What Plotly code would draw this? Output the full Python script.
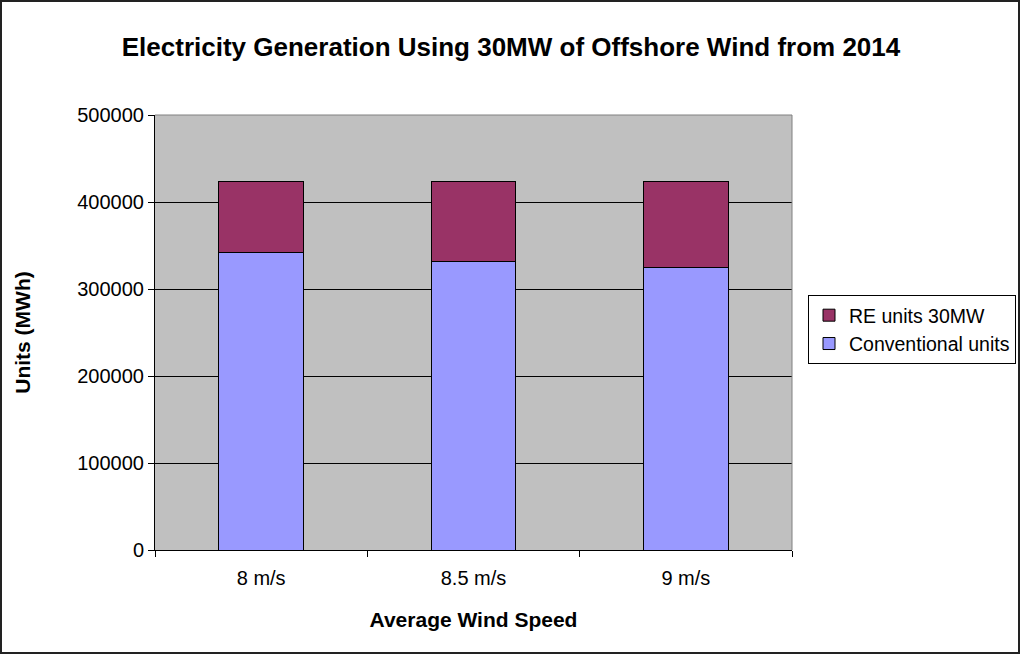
import plotly.graph_objects as go

categories = ["8 m/s", "8.5 m/s", "9 m/s"]
conventional = [342000, 332000, 324500]
re_units = [82000, 92000, 99500]

W, H = 1020, 654
L, R, T, B = 155, 228, 115, 104
pw, ph = W - L - R, H - T - B

fig = go.Figure()
fig.add_trace(go.Bar(x=categories, y=conventional, name="Conventional units",
                     marker=dict(color="#9999FF", line=dict(color="black", width=1)), width=0.4))
fig.add_trace(go.Bar(x=categories, y=re_units, name="RE units 30MW",
                     marker=dict(color="#993366", line=dict(color="black", width=1)), width=0.4))

font = "Liberation Sans, Arial, sans-serif"
fig.update_layout(
    width=W, height=H, barmode="stack",
    margin=dict(l=L, r=R, t=T, b=B, autoexpand=False),
    paper_bgcolor="white", plot_bgcolor="#C0C0C0",
    font=dict(family=font, size=20, color="black"),
    title=dict(text="<b>Electricity Generation Using 30MW of Offshore Wind from 2014</b>",
               x=(511 - L) / pw, xanchor="center", xref="paper", y=1 - 47 / H, yanchor="middle",
               font=dict(size=26, family=font)),
    legend=dict(x=(808 - L) / pw, y=(550 - 295) / ph, xanchor="left", yanchor="top",
                bordercolor="black", borderwidth=1, bgcolor="white",
                traceorder="reversed", font=dict(size=19.5, family=font),
                itemwidth=30, tracegroupgap=0),
    bargap=0.6,
)
fig.update_xaxes(type="category", tickson="boundaries", ticks="outside", ticklen=6,
                 tickcolor="black", showline=True, linecolor="black", linewidth=1,
                 showgrid=False, ticklabelstandoff=10,
                 title=dict(text="<b>Average Wind Speed</b>", font=dict(size=21, family=font), standoff=24),
                 tickfont=dict(size=20))
fig.update_yaxes(range=[0, 500000], dtick=100000, tickformat="d", ticks="outside", ticklen=6,
                 tickcolor="black", showline=True, linecolor="black", linewidth=1,
                 showgrid=True, gridcolor="black", gridwidth=1, zeroline=False,
                 title=dict(text="<b>Units (MWh)</b>", font=dict(size=21, family=font), standoff=40),
                 tickfont=dict(size=20))

# plot-area border (top/right)
fig.add_shape(type="line", xref="paper", yref="paper", x0=0, x1=1, y0=1, y1=1,
              line=dict(color="#808080", width=1))
fig.add_shape(type="line", xref="paper", yref="paper", x0=1, x1=1, y0=0, y1=1,
              line=dict(color="#808080", width=1))
# outer chart border
fig.add_shape(type="rect", xref="paper", yref="paper",
              x0=(1 - L) / pw, x1=(W - 1 - L) / pw, y0=-(H - 1 - T - ph) / ph, y1=(H - 1 - B) / ph,
              line=dict(color="#222222", width=2), fillcolor="rgba(0,0,0,0)")

fig.write_html("out.html", config={"displayModeBar": False},
               post_script="document.body.style.margin='0';")
